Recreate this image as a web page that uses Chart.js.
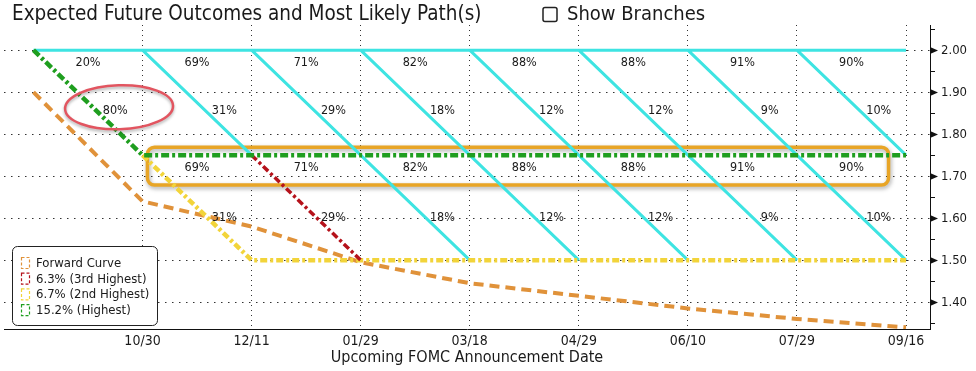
<!DOCTYPE html>
<html>
<head>
<meta charset="utf-8">
<script src="https://cdn.jsdelivr.net/npm/chart.js@4.4.0/dist/chart.umd.min.js"></script>
<style>
  html, body { margin: 0; padding: 0; background: #fff; }
  #wrap { width: 976px; height: 371px; }
</style>
</head>
<body>
<div id="wrap"><canvas id="fomcChart"></canvas></div>
<script>
// ── Data ──
const dates = ['', '10/30', '12/11', '01/29', '03/18', '04/29', '06/10', '07/29', '09/16'];
const yTicks = [1.40, 1.50, 1.60, 1.70, 1.80, 1.90, 2.00];
const topRate = 2.00, midRate = 1.75, lowRate = 1.50;

const forwardCurve = [1.90, 1.64, 1.58, 1.495, 1.445, 1.415, 1.385, 1.36, 1.34];
const highestPath  = [2.00, 1.75, 1.75, 1.75, 1.75, 1.75, 1.75, 1.75, 1.75];
const secondPath   = [null, 1.75, 1.50, 1.50, 1.50, 1.50, 1.50, 1.50, 1.50];
const thirdPath    = [null, null, 1.75, 1.50, null, null, null, null, null];

// probabilities per meeting (from the upper node / from the middle node)
const holdTop = [20, 69, 71, 82, 88, 88, 91, 90];
const cutTop  = [80, 31, 29, 18, 12, 12, 9, 10];
const holdMid = [null, 69, 71, 82, 88, 88, 91, 90];
const cutMid  = [null, 31, 29, 18, 12, 12, 9, 10];

const legendItems = [
  { label: 'Forward Curve',      color: '#e0923a' },
  { label: '6.3% (3rd Highest)', color: '#b5121b' },
  { label: '6.7% (2nd Highest)', color: '#f2d43a' },
  { label: '15.2% (Highest)',    color: '#1f9e1f' },
];

const FONT = "'DejaVu Sans Condensed', 'DejaVu Sans', sans-serif";

// series -> {x,y} points
const toPoints = arr => arr.map((v, i) => ({ x: i, y: v }));

// branch tree (cyan): top level, then step-down diagonals
const tree = [];
tree.push({ x: 0, y: topRate }, { x: dates.length - 1, y: topRate }, { x: 0, y: null });
for (let i = 1; i < dates.length - 1; i++) {
  tree.push({ x: i, y: topRate }, { x: i + 1, y: midRate }, { x: i, y: null });
}
for (let i = 3; i < dates.length - 1; i++) {
  tree.push({ x: i, y: midRate }, { x: i + 1, y: lowRate }, { x: i, y: null });
}

// ── Overlay: title, labels, box, ellipse, legend ──
const overlay = {
  id: 'overlay',
  beforeDatasetsDraw(chart) {
    const { ctx, scales: { x, y } } = chart;
    // highlighted most-likely path box
    const x1 = x.getPixelForValue(1.045), x2 = x.getPixelForValue(7.84);
    const y1 = y.getPixelForValue(1.769), y2 = y.getPixelForValue(1.679);
    ctx.save();
    ctx.shadowColor = 'rgba(0,0,0,0.35)';
    ctx.shadowBlur = 4;
    ctx.shadowOffsetX = 1;
    ctx.shadowOffsetY = 2;
    ctx.strokeStyle = '#e8a526';
    ctx.lineWidth = 3.5;
    ctx.beginPath();
    ctx.roundRect(x1, y1, x2 - x1, y2 - y1, 7);
    ctx.stroke();
    ctx.restore();
  },
  afterDatasetsDraw(chart) {
    const { ctx, scales: { x, y } } = chart;
    ctx.save();
    ctx.font = '12.5px ' + FONT;
    ctx.fillStyle = '#1a1a1a';
    ctx.textAlign = 'center';
    ctx.textBaseline = 'middle';
    holdTop.forEach((p, i) => ctx.fillText(p + '%', x.getPixelForValue(i + 0.5), y.getPixelForValue(1.969)));
    cutTop.forEach((p, i) => ctx.fillText(p + '%', x.getPixelForValue(i + 0.75), y.getPixelForValue(1.855)));
    holdMid.forEach((p, i) => { if (p != null) ctx.fillText(p + '%', x.getPixelForValue(i + 0.5), y.getPixelForValue(1.719)); });
    cutMid.forEach((p, i) => { if (p != null) ctx.fillText(p + '%', x.getPixelForValue(i + 0.75), y.getPixelForValue(1.602)); });

    // red ellipse around 80%
    const cx = x.getPixelForValue(0.785), cy = y.getPixelForValue(1.864);
    ctx.shadowColor = 'rgba(0,0,0,0.3)';
    ctx.shadowBlur = 3;
    ctx.shadowOffsetY = 2;
    ctx.strokeStyle = '#e25560';
    ctx.lineWidth = 2.5;
    ctx.beginPath();
    ctx.ellipse(cx, cy, 54, 22, -0.03, 0, Math.PI * 2);
    ctx.stroke();
    ctx.restore();
  },
  afterDraw(chart) {
    const { ctx, chartArea: area, scales: { y } } = chart;
    ctx.save();
    // title + checkbox
    ctx.fillStyle = '#1a1a1a';
    ctx.font = '20.5px ' + FONT;
    ctx.textBaseline = 'alphabetic';
    ctx.textAlign = 'left';
    ctx.fillText('Expected Future Outcomes and Most Likely Path(s)', 12, 20);
    ctx.font = '20px ' + FONT;
    ctx.fillText('Show Branches', 567, 20);
    ctx.strokeStyle = '#222';
    ctx.lineWidth = 1.5;
    ctx.beginPath();
    ctx.roundRect(543, 7.5, 14, 14, 2);
    ctx.stroke();

    // right axis arrows + minor ticks
    ctx.fillStyle = '#111';
    ctx.strokeStyle = '#111';
    ctx.lineWidth = 1;
    yTicks.forEach(v => {
      const py = Math.round(y.getPixelForValue(v));
      ctx.beginPath();
      ctx.moveTo(area.right, py - 3);
      ctx.lineTo(area.right + 8, py + 0.5);
      ctx.lineTo(area.right, py + 4);
      ctx.closePath();
      ctx.fill();
      const pm = Math.round(y.getPixelForValue(v - 0.05)) + 0.5;
      ctx.beginPath();
      ctx.moveTo(area.right, pm);
      ctx.lineTo(area.right + 5, pm);
      ctx.stroke();
    });
    const pTop = Math.round(y.getPixelForValue(2.05)) + 0.5;
    ctx.beginPath();
    ctx.moveTo(area.right, pTop);
    ctx.lineTo(area.right + 5, pTop);
    ctx.stroke();

    // legend
    const lx = 12.5, ly = 246.5, lw = 145, lh = 79;
    ctx.fillStyle = '#fff';
    ctx.strokeStyle = '#222';
    ctx.beginPath();
    ctx.roundRect(lx, ly, lw, lh, 5);
    ctx.fill();
    ctx.stroke();
    ctx.font = '13px ' + FONT;
    ctx.textBaseline = 'middle';
    legendItems.forEach((it, i) => {
      const cyy = 263 + i * 15.7;
      ctx.setLineDash([3, 2]);
      ctx.strokeStyle = it.color;
      ctx.lineWidth = 1.2;
      ctx.strokeRect(21.5, cyy - 5.5, 8, 11);
      ctx.setLineDash([]);
      ctx.fillStyle = '#1a1a1a';
      ctx.fillText(it.label, 36, cyy + 0.5);
    });
    ctx.restore();
  }
};

const line = (data, color, width, dash) => ({
  data, borderColor: color, borderWidth: width, borderDash: dash,
  pointRadius: 0, fill: false, tension: 0, spanGaps: false,
  borderCapStyle: 'butt', borderJoinStyle: 'miter'
});

new Chart(document.getElementById('fomcChart'), {
  type: 'line',
  data: {
    datasets: [
      line(toPoints(highestPath), '#1f9e1f', 4.5, [8, 3, 3, 3]),
      line(toPoints(thirdPath), '#b5121b', 3.5, [7, 3, 3, 3]),
      line(toPoints(secondPath), '#f2d43a', 4.5, [7, 3, 3, 3]),
      line(toPoints(forwardCurve), '#e0923a', 4, [10, 6]),
      line(tree, '#3ee4e2', 3, []),
    ]
  },
  options: {
    responsive: true,
    maintainAspectRatio: false,
    animation: false,
    events: [],
    layout: { padding: { top: 25, left: 4, right: 0, bottom: 0 } },
    plugins: { legend: { display: false }, tooltip: { enabled: false }, title: { display: false } },
    scales: {
      x: {
        type: 'linear',
        min: -0.27, max: 8.22,
        afterBuildTicks: s => { s.ticks = dates.map((d, i) => ({ value: i })).slice(1); },
        afterFit: s => { s.height = 42; },
        ticks: {
          callback: v => dates[v],
          font: { family: FONT, size: 14 }, color: '#1a1a1a', padding: 4, maxRotation: 0, autoSkip: false
        },
        grid: { color: '#333', lineWidth: 1, drawTicks: false },
        border: { display: true, color: '#111', width: 1, dash: [1, 4] },
        title: {
          display: true, text: 'Upcoming FOMC Announcement Date',
          font: { family: FONT, size: 16 }, color: '#1a1a1a', padding: { top: 0, bottom: 4 }
        }
      },
      y: {
        position: 'right',
        min: 1.336, max: 2.06,
        afterBuildTicks: s => { s.ticks = yTicks.map(v => ({ value: v })); },
        afterFit: s => { s.width = 46; },
        ticks: {
          callback: v => v.toFixed(2),
          font: { family: FONT, size: 13 }, color: '#1a1a1a', padding: 11
        },
        grid: { color: '#333', lineWidth: 1, drawTicks: false },
        border: { display: true, color: '#111', width: 1, dash: [1.5, 5.5] }
      }
    }
  },
  plugins: [overlay]
});
</script>
</body>
</html>
